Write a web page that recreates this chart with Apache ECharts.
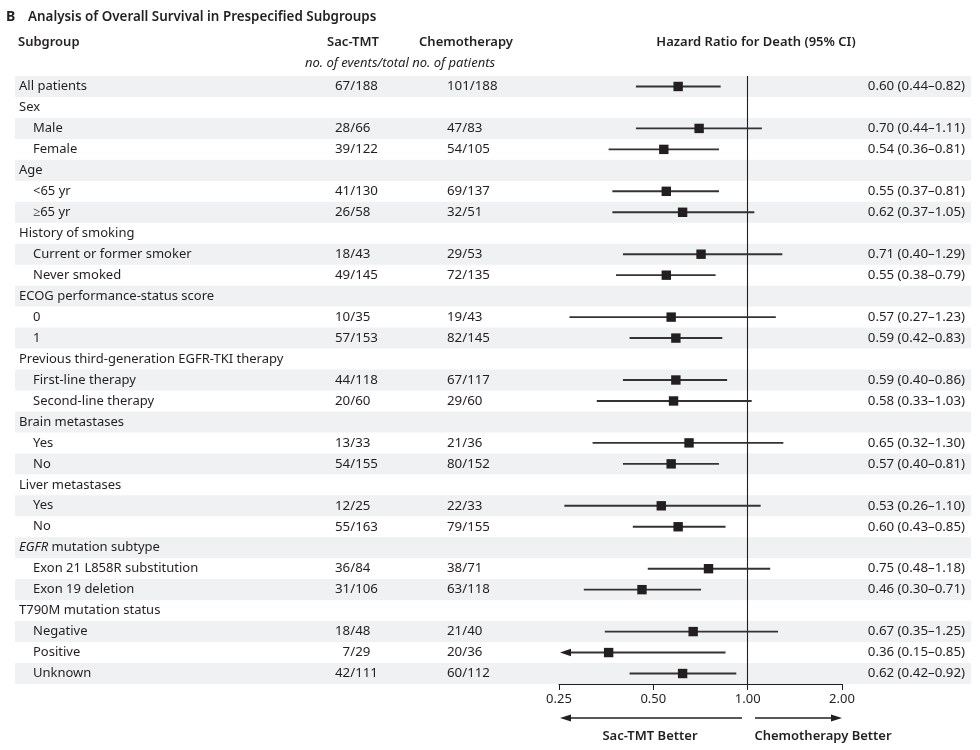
<!DOCTYPE html>
<html>
<head>
<meta charset="utf-8">
<script src="https://cdn.jsdelivr.net/npm/echarts@6/dist/echarts.min.js"></script>
<style>
  html, body { margin: 0; padding: 0; background: #fff; }
  #chart { width: 980px; height: 750px; }
</style>
</head>
<body>
<div id="chart"></div>
<script>
// subgroup rows, top to bottom
const rowLabels = [
  "All patients", "Sex", "Male", "Female", "Age", "<65 yr", "≥65 yr",
  "History of smoking", "Current or former smoker", "Never smoked",
  "ECOG performance-status score", "0", "1",
  "Previous third-generation EGFR-TKI therapy", "First-line therapy", "Second-line therapy",
  "Brain metastases", "Yes", "No",
  "Liver metastases", "Yes", "No",
  "{it|EGFR} mutation subtype", "Exon 21 L858R substitution", "Exon 19 deletion",
  "T790M mutation status", "Negative", "Positive", "Unknown"
];
// 0 = header row, 1 = indented subgroup
const rowIndent = [0, 0, 1, 1, 0, 1, 1, 0, 1, 1, 0, 1, 1, 0, 1, 1, 0, 1, 1, 0, 1, 1, 0, 1, 1, 0, 1, 1, 1];

const sacEvents   = [67, null, 28, 39, null, 41, 26, null, 18, 49, null, 10, 57, null, 44, 20, null, 13, 54, null, 12, 55, null, 36, 31, null, 18, 7, 42];
const sacTotal    = [188, null, 66, 122, null, 130, 58, null, 43, 145, null, 35, 153, null, 118, 60, null, 33, 155, null, 25, 163, null, 84, 106, null, 48, 29, 111];
const chemoEvents = [101, null, 47, 54, null, 69, 32, null, 29, 72, null, 19, 82, null, 67, 29, null, 21, 80, null, 22, 79, null, 38, 63, null, 21, 20, 60];
const chemoTotal  = [188, null, 83, 105, null, 137, 51, null, 53, 135, null, 43, 145, null, 117, 60, null, 36, 152, null, 33, 155, null, 71, 118, null, 40, 36, 112];

const hazardRatio = [0.60, null, 0.70, 0.54, null, 0.55, 0.62, null, 0.71, 0.55, null, 0.57, 0.59, null, 0.59, 0.58, null, 0.65, 0.57, null, 0.53, 0.60, null, 0.75, 0.46, null, 0.67, 0.36, 0.62];
const ciLow       = [0.44, null, 0.44, 0.36, null, 0.37, 0.37, null, 0.40, 0.38, null, 0.27, 0.42, null, 0.40, 0.33, null, 0.32, 0.40, null, 0.26, 0.43, null, 0.48, 0.30, null, 0.35, 0.15, 0.42];
const ciHigh      = [0.82, null, 1.11, 0.81, null, 0.81, 1.05, null, 1.29, 0.79, null, 1.23, 0.83, null, 0.86, 1.03, null, 1.30, 0.81, null, 1.10, 0.85, null, 1.18, 0.71, null, 1.25, 0.85, 0.92];

const axisMin = 0.25;
const axisMax = 2;

const FONT = "Noto Sans";
const INK = "#231f20";
const BAND = "#f0f1f3";

const chart = echarts.init(document.getElementById("chart"));

const rowIdx = rowLabels.map((_, i) => i);
const fmt = v => v.toFixed(2);
const count = (e, t) => e == null ? "" : String(e).padStart(2, "\u2007") + "/" + t;

function txt(x, y, text, opts) {
  return {
    type: "text", x: x, y: y, silent: true,
    style: Object.assign({
      text: text, fill: INK, fontFamily: FONT, fontSize: 13,
      align: "left", verticalAlign: "middle",
      textAlign: "left", textVerticalAlign: "middle"
    }, opts || {})
  };
}

const option = {
  animation: false,
  grid: [
    { left: 15, right: 9, top: 76, bottom: 66 },
    { left: 559, right: 138, top: 76, bottom: 66 }
  ],
  xAxis: [
    { gridIndex: 0, type: "value", min: 0, max: 1, show: false },
    {
      gridIndex: 1, type: "log", logBase: 2, min: axisMin, max: axisMax,
      axisLine: { show: true, onZero: false, lineStyle: { color: INK, width: 1 } },
      axisTick: { show: true, length: 6, lineStyle: { color: INK } },
      axisLabel: { formatter: v => fmt(v), color: INK, fontFamily: FONT, fontSize: 13, margin: 9 },
      splitLine: { show: false }
    }
  ],
  yAxis: [
    { gridIndex: 0, type: "category", data: rowIdx, inverse: true, show: false },
    { gridIndex: 1, type: "category", data: rowIdx, inverse: true, show: false }
  ],
  series: [
    {
      // alternate row shading
      type: "bar", xAxisIndex: 0, yAxisIndex: 0, silent: true, z: 0,
      barWidth: "100%", barCategoryGap: 0,
      itemStyle: { color: BAND },
      data: rowIdx.map(i => i % 2 === 0 ? 1 : "-")
    },
    {
      // text columns
      type: "custom", xAxisIndex: 0, yAxisIndex: 0, silent: true, z: 5,
      encode: { x: 0, y: 1 },
      data: rowIdx.map(i => [0, i]),
      renderItem: function (params, api) {
        const i = api.value(1);
        const y = api.coord([0, i])[1];
        const kids = [
          txt(rowIndent[i] ? 33 : 19, y, rowLabels[i], {
            rich: { it: { fontStyle: "italic", fontFamily: FONT, fontSize: 13, fill: INK } }
          })
        ];
        if (sacEvents[i] != null) {
          kids.push(txt(335, y, count(sacEvents[i], sacTotal[i]), { fontSize: 13.3 }));
          kids.push(txt(447, y, count(chemoEvents[i], chemoTotal[i]), { fontSize: 13.3 }));
        }
        if (hazardRatio[i] != null) {
          kids.push(txt(965, y, fmt(hazardRatio[i]) + " (" + fmt(ciLow[i]) + "\u2013" + fmt(ciHigh[i]) + ")",
            { align: "right", textAlign: "right", fontSize: 13.3 }));
        }
        return { type: "group", children: kids };
      }
    },
    {
      // hazard ratio squares with 95% CI
      type: "custom", xAxisIndex: 1, yAxisIndex: 1, silent: true, z: 6,
      encode: { x: [1, 2, 3], y: 0 },
      data: rowIdx.filter(i => hazardRatio[i] != null)
        .map(i => [i, hazardRatio[i], ciLow[i], ciHigh[i]]),
      renderItem: function (params, api) {
        const row = api.value(0);
        const lo = api.value(2);
        const clipped = lo < axisMin;
        const pHr = api.coord([api.value(1), row]);
        const pLo = api.coord([clipped ? axisMin : lo, row]);
        const pHi = api.coord([api.value(3), row]);
        const y = pHr[1];
        const kids = [];
        const x0 = clipped ? pLo[0] + 10 : pLo[0];
        kids.push({
          type: "line",
          shape: { x1: x0, y1: y, x2: pHi[0], y2: y },
          style: { stroke: "#333", lineWidth: 1.9 }
        });
        if (clipped) {
          kids.push({
            type: "polygon",
            shape: { points: [[pLo[0] + 1, y], [pLo[0] + 12, y - 3.8], [pLo[0] + 12, y + 3.8]] },
            style: { fill: INK }
          });
        }
        kids.push({
          type: "rect",
          shape: { x: pHr[0] - 4.7, y: y - 4.7, width: 9.4, height: 9.4 },
          style: { fill: INK }
        });
        return { type: "group", children: kids };
      },
      markLine: {
        silent: true, symbol: "none", animation: false,
        label: { show: false },
        lineStyle: { color: INK, width: 1.1, type: "solid" },
        data: [{ xAxis: 1 }]
      }
    }
  ],
  graphic: [
    txt(6, 17, "B", { fontWeight: "bold", fontSize: 14 }),
    txt(28, 17, "Analysis of Overall Survival in Prespecified Subgroups", { fontWeight: 600, fontSize: 13.4 }),
    txt(18, 42, "Subgroup", { fontWeight: 600 }),
    txt(353, 42, "Sac-TMT", { fontWeight: 600, align: "center", textAlign: "center" }),
    txt(466, 42, "Chemotherapy", { fontWeight: 600, align: "center", textAlign: "center" }),
    txt(400, 63, "no. of events/total no. of patients", { fontStyle: "italic", align: "center", textAlign: "center" }),
    txt(756, 42, "Hazard Ratio for Death (95% CI)", { fontWeight: 600, align: "center", textAlign: "center" }),
    // direction arrows under the axis
    { type: "line", silent: true, shape: { x1: 570, y1: 718, x2: 742, y2: 718 }, style: { stroke: INK, lineWidth: 1.3 } },
    { type: "polygon", silent: true, shape: { points: [[560, 718], [571, 714.5], [571, 721.5]] }, style: { fill: INK } },
    { type: "line", silent: true, shape: { x1: 755, y1: 718, x2: 832, y2: 718 }, style: { stroke: INK, lineWidth: 1.3 } },
    { type: "polygon", silent: true, shape: { points: [[842, 718], [831, 714.5], [831, 721.5]] }, style: { fill: INK } },
    txt(650, 736, "Sac-TMT Better", { fontWeight: 600, align: "center", textAlign: "center" }),
    txt(823, 736, "Chemotherapy Better", { fontWeight: 600, align: "center", textAlign: "center" })
  ]
};

chart.setOption(option);
</script>
</body>
</html>
